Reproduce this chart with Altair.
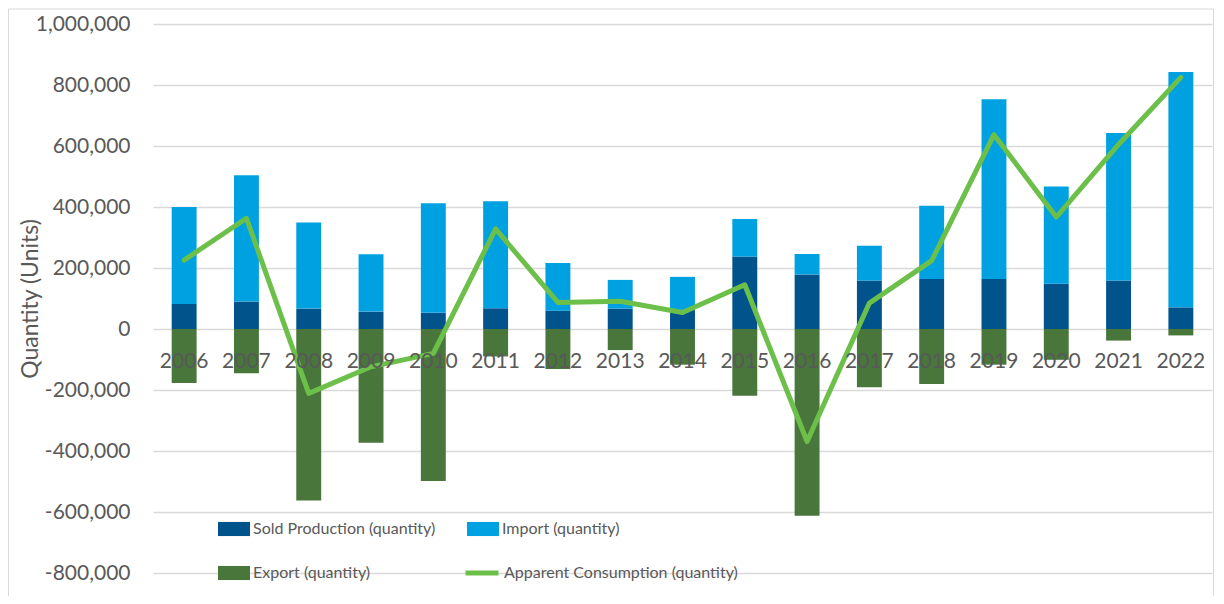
import altair as alt
import pandas as pd

years = ["2006", "2007", "2008", "2009", "2010", "2011", "2012", "2013", "2014",
         "2015", "2016", "2017", "2018", "2019", "2020", "2021", "2022"]
sold = [82000, 90000, 67000, 57000, 53000, 68000, 60000, 67000, 62000,
        238000, 179000, 159000, 164000, 164000, 148000, 159000, 71000]
imports = [318000, 414000, 282000, 188000, 359000, 351000, 156000, 94000, 109000,
           123000, 67000, 114000, 240000, 589000, 319000, 484000, 772000]
exports = [-177000, -145000, -562000, -373000, -498000, -90000, -131000, -69000, -117000,
           -219000, -612000, -191000, -180000, -117000, -101000, -38000, -21000]
consumption = [226000, 363000, -211000, -124000, -80000, 328000, 87000, 91000, 54000,
               145000, -369000, 85000, 224000, 637000, 367000, 605000, 825000]

series_names = ["Sold Production (quantity)", "Import (quantity)", "Export (quantity)"]
line_name = "Apparent Consumption (quantity)"
bar_colors = ["#00538b", "#00a1e0", "#48763b"]
line_color = "#6cc04a"
y_ticks = [-800000, -600000, -400000, -200000, 0, 200000, 400000, 600000, 800000, 1000000]

rows = []
for i, yr in enumerate(years):
    for k, (name, vals) in enumerate(zip(series_names, [sold, imports, exports])):
        rows.append({"year": yr, "series": name, "value": vals[i], "ord": k})
bars_df = pd.DataFrame(rows)
line_df = pd.DataFrame({"year": years, "value": consumption, "series": [line_name] * len(years)})

FONT = "Lato"
GREY = "#595959"
W, H = 1059, 549

x_enc = alt.X(
    "year:N", sort=years, title=None,
    scale=alt.Scale(paddingInner=0.6, paddingOuter=0.3),
    axis=alt.Axis(orient="bottom", offset=-244, domain=False, ticks=False, grid=False,
                  labelAngle=0, labelFontSize=21, labelFont=FONT, labelColor=GREY,
                  labelPadding=32, labelBaseline="middle", zindex=1),
)
y_scale = alt.Scale(domain=[-800000, 1000000], nice=False)
y_axis = alt.Axis(
    values=y_ticks,
    labelExpr="replace(format(datum.value, ',.0f'), '\u2212', '-')",
    domain=False, ticks=False, tickSize=0,
    labelFontSize=21, labelFont=FONT, labelColor=GREY, labelPadding=23,
    gridColor="#d9d9d9", gridWidth=1.3,
    title="Quantity (Units)", titleFont=FONT, titleFontSize=23, titleFontWeight="normal",
    titleColor=GREY, titleX=-123, titleY=274.5, titleAlign="center", titleBaseline="middle",
    titleAngle=270,
)

bars = alt.Chart(bars_df).mark_bar().encode(
    x=x_enc,
    y=alt.Y("value:Q", stack="zero", scale=y_scale, axis=y_axis),
    color=alt.Color(
        "series:N",
        scale=alt.Scale(domain=series_names, range=bar_colors),
        legend=alt.Legend(
            title=None, orient="none", legendX=65, legendY=489, columns=2,
            direction="horizontal",
            columnPadding=31, rowPadding=20, padding=0,
            symbolType="M-1,-0.44H1V0.44H-1Z", symbolSize=1024, symbolStrokeWidth=0,
            labelFontSize=16, labelFont=FONT, labelColor=GREY, labelOffset=3,
            labelLimit=400,
        ),
    ),
    order=alt.Order("ord:Q"),
)

line = alt.Chart(line_df).mark_line(
    strokeWidth=5, strokeCap="round", strokeJoin="round"
).encode(
    x=alt.X("year:N", sort=years),
    y=alt.Y("value:Q"),
    stroke=alt.Stroke(
        "series:N",
        scale=alt.Scale(domain=[line_name], range=[line_color]),
        legend=alt.Legend(
            title=None, orient="none", legendX=310, legendY=530, padding=0,
            symbolType="stroke", symbolSize=1089, symbolStrokeWidth=5,
            labelFontSize=16, labelFont=FONT, labelColor=GREY, labelOffset=3,
            labelLimit=400,
        ),
    ),
)

frame = alt.Chart(pd.DataFrame({"k": [0]})).mark_rect(
    fillOpacity=0, stroke="#d9d9d9", strokeWidth=1
).encode(
    x=alt.value(-144.5), x2=alt.value(1060.5), y=alt.value(-15), y2=alt.value(640)
)

chart = alt.layer(frame, bars, line).properties(
    width=W, height=H,
    padding={"left": 145, "top": 16, "right": 4, "bottom": 23},
    autosize=alt.AutoSizeParams(type="none"),
    background="white",
).configure_view(strokeWidth=0)

chart.save("out.html", embed_options={"renderer": "svg", "actions": False})
